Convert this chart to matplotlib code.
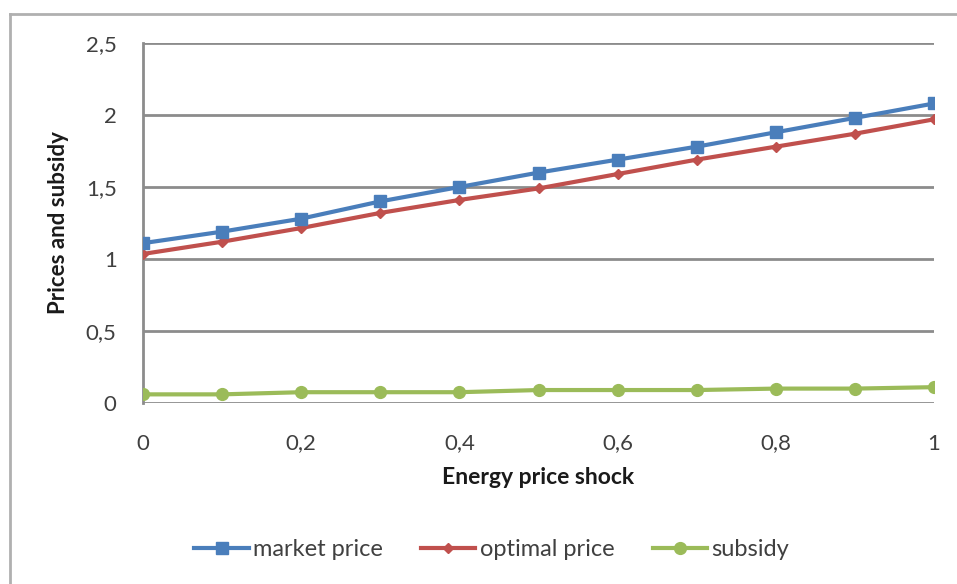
import matplotlib.pyplot as plt
from matplotlib.lines import Line2D
from matplotlib.ticker import FuncFormatter

plt.rcParams["font.family"] = ["Lato", "DejaVu Sans"]

# energy price shock levels and resulting prices
shock = [0, 0.1, 0.2, 0.3, 0.4, 0.5, 0.6, 0.7, 0.8, 0.9, 1.0]
market_price = [1.11, 1.19, 1.28, 1.40, 1.50, 1.60, 1.69, 1.78, 1.88, 1.98, 2.08]
optimal_price = [1.035, 1.12, 1.215, 1.32, 1.41, 1.49, 1.59, 1.69, 1.78, 1.87, 1.97]
subsidy = [0.06, 0.06, 0.075, 0.075, 0.075, 0.09, 0.09, 0.09, 0.10, 0.10, 0.11]

blue = "#4a7ebb"
red = "#c0504d"
green = "#9bbb59"
grid_col = "#8c8c8c"
text_col = "#404040"

fig = plt.figure(figsize=(9.57, 5.84), dpi=100)
fig.patch.set_facecolor("white")

# chart frame (top and left edges only)
fig.add_artist(Line2D([10 / 957, 1.0], [1 - 14 / 584, 1 - 14 / 584],
                      transform=fig.transFigure, color="#b0b0b0", lw=2))
fig.add_artist(Line2D([10 / 957, 10 / 957], [0, 1 - 14 / 584],
                      transform=fig.transFigure, color="#b0b0b0", lw=2))

ax = fig.add_axes([143 / 957, 1 - 403 / 584, 791 / 957, 360 / 584])

ax.plot(shock, market_price, color=blue, lw=3, marker="s", ms=8.5,
        label="market price", zorder=4)
ax.plot(shock, optimal_price, color=red, lw=3, marker="D", ms=5,
        label="optimal price", zorder=3)
ax.plot(shock, subsidy, color=green, lw=3, marker="o", ms=8.5,
        label="subsidy", zorder=3)

ax.set_xlim(0, 1)
ax.set_ylim(0, 2.5)
ax.set_xticks([0, 0.2, 0.4, 0.6, 0.8, 1.0])
ax.set_yticks([0, 0.5, 1, 1.5, 2, 2.5])

comma = FuncFormatter(lambda v, p: ("%g" % round(v, 2)).replace(".", ","))
ax.xaxis.set_major_formatter(comma)
ax.yaxis.set_major_formatter(comma)

ax.grid(axis="y", color=grid_col, lw=2)
ax.set_axisbelow(True)
for side in ["top", "right", "bottom"]:
    ax.spines[side].set_visible(False)
ax.spines["left"].set_color(grid_col)
ax.spines["left"].set_linewidth(2)
ax.tick_params(length=0, labelsize=16, colors=text_col)
ax.tick_params(axis="y", pad=19)
ax.tick_params(axis="x", pad=22)
for lab in ax.get_xticklabels() + ax.get_yticklabels():
    lab.set_clip_on(False)

ax.set_xlabel("Energy price shock", fontsize=16.5, fontweight="bold",
              color="#1a1a1a", labelpad=10)
ax.set_ylabel("Prices and subsidy", fontsize=16, fontweight="bold",
              color="#1a1a1a", labelpad=12)

leg = fig.legend(loc="center", bbox_to_anchor=(0.514, 1 - 550 / 584),
                 ncol=3, frameon=False, fontsize=17, handlelength=2.3,
                 columnspacing=1.6, handletextpad=0.2)
for t in leg.get_texts():
    t.set_color(text_col)

fig.savefig("out.png", dpi=100)
